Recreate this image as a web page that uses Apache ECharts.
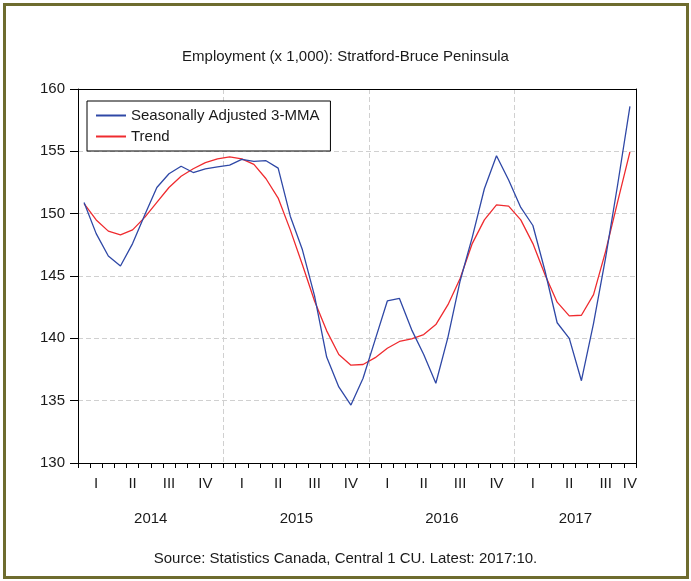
<!DOCTYPE html>
<html>
<head>
<meta charset="utf-8">
<script src="https://cdn.jsdelivr.net/npm/echarts@6/dist/echarts.min.js"></script>
<style>
  html, body { margin: 0; padding: 0; background: #ffffff; }
  #chart { position: absolute; left: 0; top: 0; width: 691px; height: 581px; }
  #frame { position: absolute; left: 3px; top: 3px; width: 680px; height: 570px; border: 3px solid #6e6c2e; pointer-events: none; }
</style>
</head>
<body>
<div id="chart"></div>
<div id="frame"></div>
<script>
// Monthly categories, Jan 2014 - Oct 2017
const months = [
  '2014-01','2014-02','2014-03','2014-04','2014-05','2014-06','2014-07','2014-08','2014-09','2014-10','2014-11','2014-12',
  '2015-01','2015-02','2015-03','2015-04','2015-05','2015-06','2015-07','2015-08','2015-09','2015-10','2015-11','2015-12',
  '2016-01','2016-02','2016-03','2016-04','2016-05','2016-06','2016-07','2016-08','2016-09','2016-10','2016-11','2016-12',
  '2017-01','2017-02','2017-03','2017-04','2017-05','2017-06','2017-07','2017-08','2017-09','2017-10'
];
// Quarter label for each month (shown at middle month of quarter)
const quarterLabels = [
  '','I','','','II','','','III','','','IV','',
  '','I','','','II','','','III','','','IV','',
  '','I','','','II','','','III','','','IV','',
  '','I','','','II','','','III','','IV'
];
// Year labels at month boundaries (47 boundaries)
const yearBoundaryLabels = [
  '','','','','','','2014','','','','','','',
  '','','','','','2015','','','','','','',
  '','','','','','2016','','','','','','',
  '','','','','2017','','','','',''
];
const seasonallyAdjusted = [
  150.9, 148.4, 146.6, 145.8, 147.6, 149.9, 152.1, 153.2, 153.8, 153.3, 153.6, 153.75,
  153.9, 154.35, 154.2, 154.25, 153.65, 149.8, 147.1, 143.4, 138.5, 136.1, 134.65, 136.8,
  139.9, 143.0, 143.2, 140.7, 138.7, 136.4, 140.1, 144.6, 148.1, 152.0, 154.65, 152.7,
  150.5, 149.05, 145.4, 141.25, 140.0, 136.6, 141.2, 146.5, 152.4, 158.6
];
const trend = [
  150.8, 149.5, 148.6, 148.3, 148.7, 149.7, 150.9, 152.1, 153.0, 153.6, 154.1, 154.4,
  154.55, 154.4, 153.95, 152.8, 151.25, 148.7, 145.9, 143.0, 140.6, 138.7, 137.85, 137.9,
  138.45, 139.2, 139.75, 139.95, 140.3, 141.1, 142.7, 144.8, 147.6, 149.5, 150.7, 150.6,
  149.5, 147.6, 145.1, 142.9, 141.8, 141.85, 143.5, 147.0, 151.0, 154.95
];
const yearBoundaryGridIdx = [12, 24, 36];

const FONT = '"Liberation Sans", Arial, sans-serif';
const FS = 15;
const chart = echarts.init(document.getElementById('chart'), null, { renderer: 'canvas' });
chart.setOption({
  backgroundColor: '#ffffff',
  animation: false,
  title: {
    text: 'Employment (x 1,000): Stratford-Bruce Peninsula',
    left: 'center', top: 44,
    textStyle: { fontFamily: FONT, fontSize: FS, fontWeight: 'normal', color: '#1a1a1a' }
  },
  legend: {
    left: 87, top: 101,
    orient: 'vertical',
    itemWidth: 30, itemHeight: 14, itemGap: 6,
    padding: [7, 11, 7, 8],
    borderColor: '#000', borderWidth: 1,
    backgroundColor: '#fff',
    itemStyle: { opacity: 0 },
    textStyle: { fontFamily: FONT, fontSize: FS, color: '#1a1a1a' },
    data: ['Seasonally Adjusted 3-MMA', 'Trend']
  },
  grid: {
    left: 78, right: 55, top: 89, bottom: 118
  },
  xAxis: [
    {
      type: 'category', data: months, boundaryGap: true, position: 'bottom',
      axisLine: { lineStyle: { color: '#000', width: 1 } },
      axisTick: { show: true, interval: 0, length: 5, lineStyle: { color: '#000' } },
      axisLabel: {
        interval: 0, margin: 13, hideOverlap: false,
        fontFamily: FONT, fontSize: FS, color: '#1a1a1a',
        formatter: function (v, i) { return quarterLabels[i]; }
      },
      splitLine: {
        show: true,
        interval: function (i) { return yearBoundaryGridIdx.indexOf(i) >= 0; },
        lineStyle: { color: '#d0d0d0', type: [5, 3], width: 1 }
      }
    },
    {
      type: 'category', data: yearBoundaryLabels, boundaryGap: false, position: 'bottom',
      axisLine: { show: false }, axisTick: { show: false }, splitLine: { show: false },
      axisLabel: {
        interval: 0, margin: 48, hideOverlap: false,
        fontFamily: FONT, fontSize: FS, color: '#1a1a1a'
      }
    },
    {
      type: 'category', data: months, boundaryGap: true, position: 'top',
      axisLine: { show: true, lineStyle: { color: '#000', width: 1 } },
      axisTick: { show: false }, axisLabel: { show: false }, splitLine: { show: false }
    }
  ],
  yAxis: [
    {
      type: 'value', min: 130, max: 160, interval: 5,
      axisLine: { show: true, lineStyle: { color: '#000' } },
      axisTick: { show: true, length: 8, lineStyle: { color: '#000' } },
      axisLabel: { margin: 13, fontFamily: FONT, fontSize: FS, color: '#1a1a1a' },
      splitLine: { show: true, showMinLine: false, showMaxLine: false, lineStyle: { color: '#d0d0d0', type: [5, 3], width: 1 } }
    },
    {
      type: 'value', min: 130, max: 160, interval: 5, position: 'right',
      axisLine: { show: true, lineStyle: { color: '#000' } },
      axisTick: { show: false }, axisLabel: { show: false }, splitLine: { show: false }
    }
  ],
  graphic: [{
    type: 'text', left: 'center', top: 551,
    style: { text: 'Source: Statistics Canada, Central 1 CU. Latest: 2017:10.', font: FS + 'px ' + FONT, fill: '#1a1a1a' }
  }],
  series: [
    {
      name: 'Seasonally Adjusted 3-MMA', type: 'line', data: seasonallyAdjusted,
      symbol: 'none', lineStyle: { color: '#2f48a6', width: 1.3 }, itemStyle: { color: '#2f48a6' }, z: 3
    },
    {
      name: 'Trend', type: 'line', data: trend,
      symbol: 'none', lineStyle: { color: '#ef2b2f', width: 1.3 }, itemStyle: { color: '#ef2b2f' }, z: 2
    }
  ]
});
</script>
</body>
</html>
